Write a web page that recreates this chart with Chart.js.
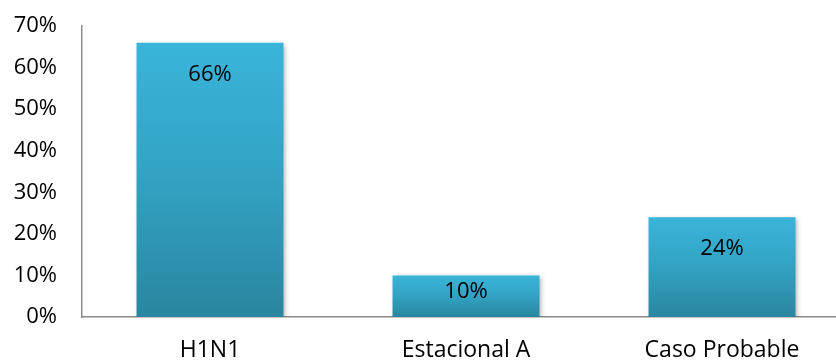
<!DOCTYPE html>
<html>
<head>
<meta charset="utf-8">
<script src="https://cdn.jsdelivr.net/npm/chart.js@4"></script>
<style>
  html, body { margin: 0; padding: 0; background: #fff; overflow: hidden; }
  #wrap { width: 850px; height: 360px; }
</style>
</head>
<body>
<div id="wrap"><canvas id="graph" width="850" height="360"></canvas></div>
<script>
const categories = ["H1N1", "Estacional A", "Caso Probable"];
const values = [66, 10, 24];
const yTicks = [0, 10, 20, 30, 40, 50, 60, 70];

const ctx = document.getElementById("graph").getContext("2d");
const font = "'Open Sans', sans-serif";

// per-bar vertical gradient, light at the top, darker at the base
const barFill = (context) => {
  const chart = context.chart;
  const y = chart.scales.y;
  if (!chart.chartArea || !y) return "#33a9cc";
  const v = context.raw;
  const top = y.getPixelForValue(v);
  const base = y.getPixelForValue(0);
  const g = chart.ctx.createLinearGradient(0, top, 0, base);
  g.addColorStop(0, "#39b5da");
  g.addColorStop(0.5, "#32a2c2");
  g.addColorStop(1, "#2a86a0");
  return g;
};

const barShadow = {
  id: "barShadow",
  beforeDatasetsDraw(chart) {
    const c = chart.ctx;
    c.save();
    c.shadowColor = "rgba(0,0,0,0.35)";
    c.shadowBlur = 5;
    c.shadowOffsetX = 2;
    c.shadowOffsetY = 2;
  },
  afterDatasetsDraw(chart) {
    chart.ctx.restore();
  },
};

const barLabels = {
  id: "barLabels",
  afterDatasetsDraw(chart) {
    const c = chart.ctx;
    const meta = chart.getDatasetMeta(0);
    c.save();
    c.font = "22px " + font;
    c.fillStyle = "#000";
    c.textAlign = "center";
    c.textBaseline = "middle";
    meta.data.forEach((bar, i) => {
      const h = bar.base - bar.y;
      const off = Math.min(32, h * 0.4);
      c.fillText(values[i] + "%", bar.x, bar.y + off);
    });
    c.restore();
  },
};

new Chart(ctx, {
  type: "bar",
  data: {
    labels: categories,
    datasets: [
      {
        data: values,
        backgroundColor: barFill,
        borderWidth: 0,
        categoryPercentage: 1,
        barPercentage: 0.574,
      },
    ],
  },
  options: {
    responsive: false,
    animation: false,
    layout: { padding: { top: 26, right: 0, left: 0, bottom: 0 } },
    plugins: {
      legend: { display: false },
      tooltip: { enabled: false },
    },
    scales: {
      x: {
        grid: { display: false, drawTicks: false },
        border: { display: true, color: "#8c8c8c", width: 1.5 },
        ticks: { color: "#000", font: { family: font, size: 23 }, padding: 20 },
        afterFit: (s) => { s.height = 43; },
      },
      y: {
        min: 0,
        max: 70,
        grid: { display: false, drawTicks: false },
        border: { display: true, color: "#8c8c8c", width: 1.5 },
        afterBuildTicks: (s) => { s.ticks = yTicks.map((v) => ({ value: v })); },
        ticks: {
          color: "#000",
          font: { family: font, size: 22 },
          padding: 25,
          callback: (v) => v + "%",
        },
        afterFit: (s) => {
          s.width = 82;
          s.paddingTop = 0;
          s.paddingBottom = 0;
        },
      },
    },
  },
  plugins: [barShadow, barLabels],
});
</script>
</body>
</html>
